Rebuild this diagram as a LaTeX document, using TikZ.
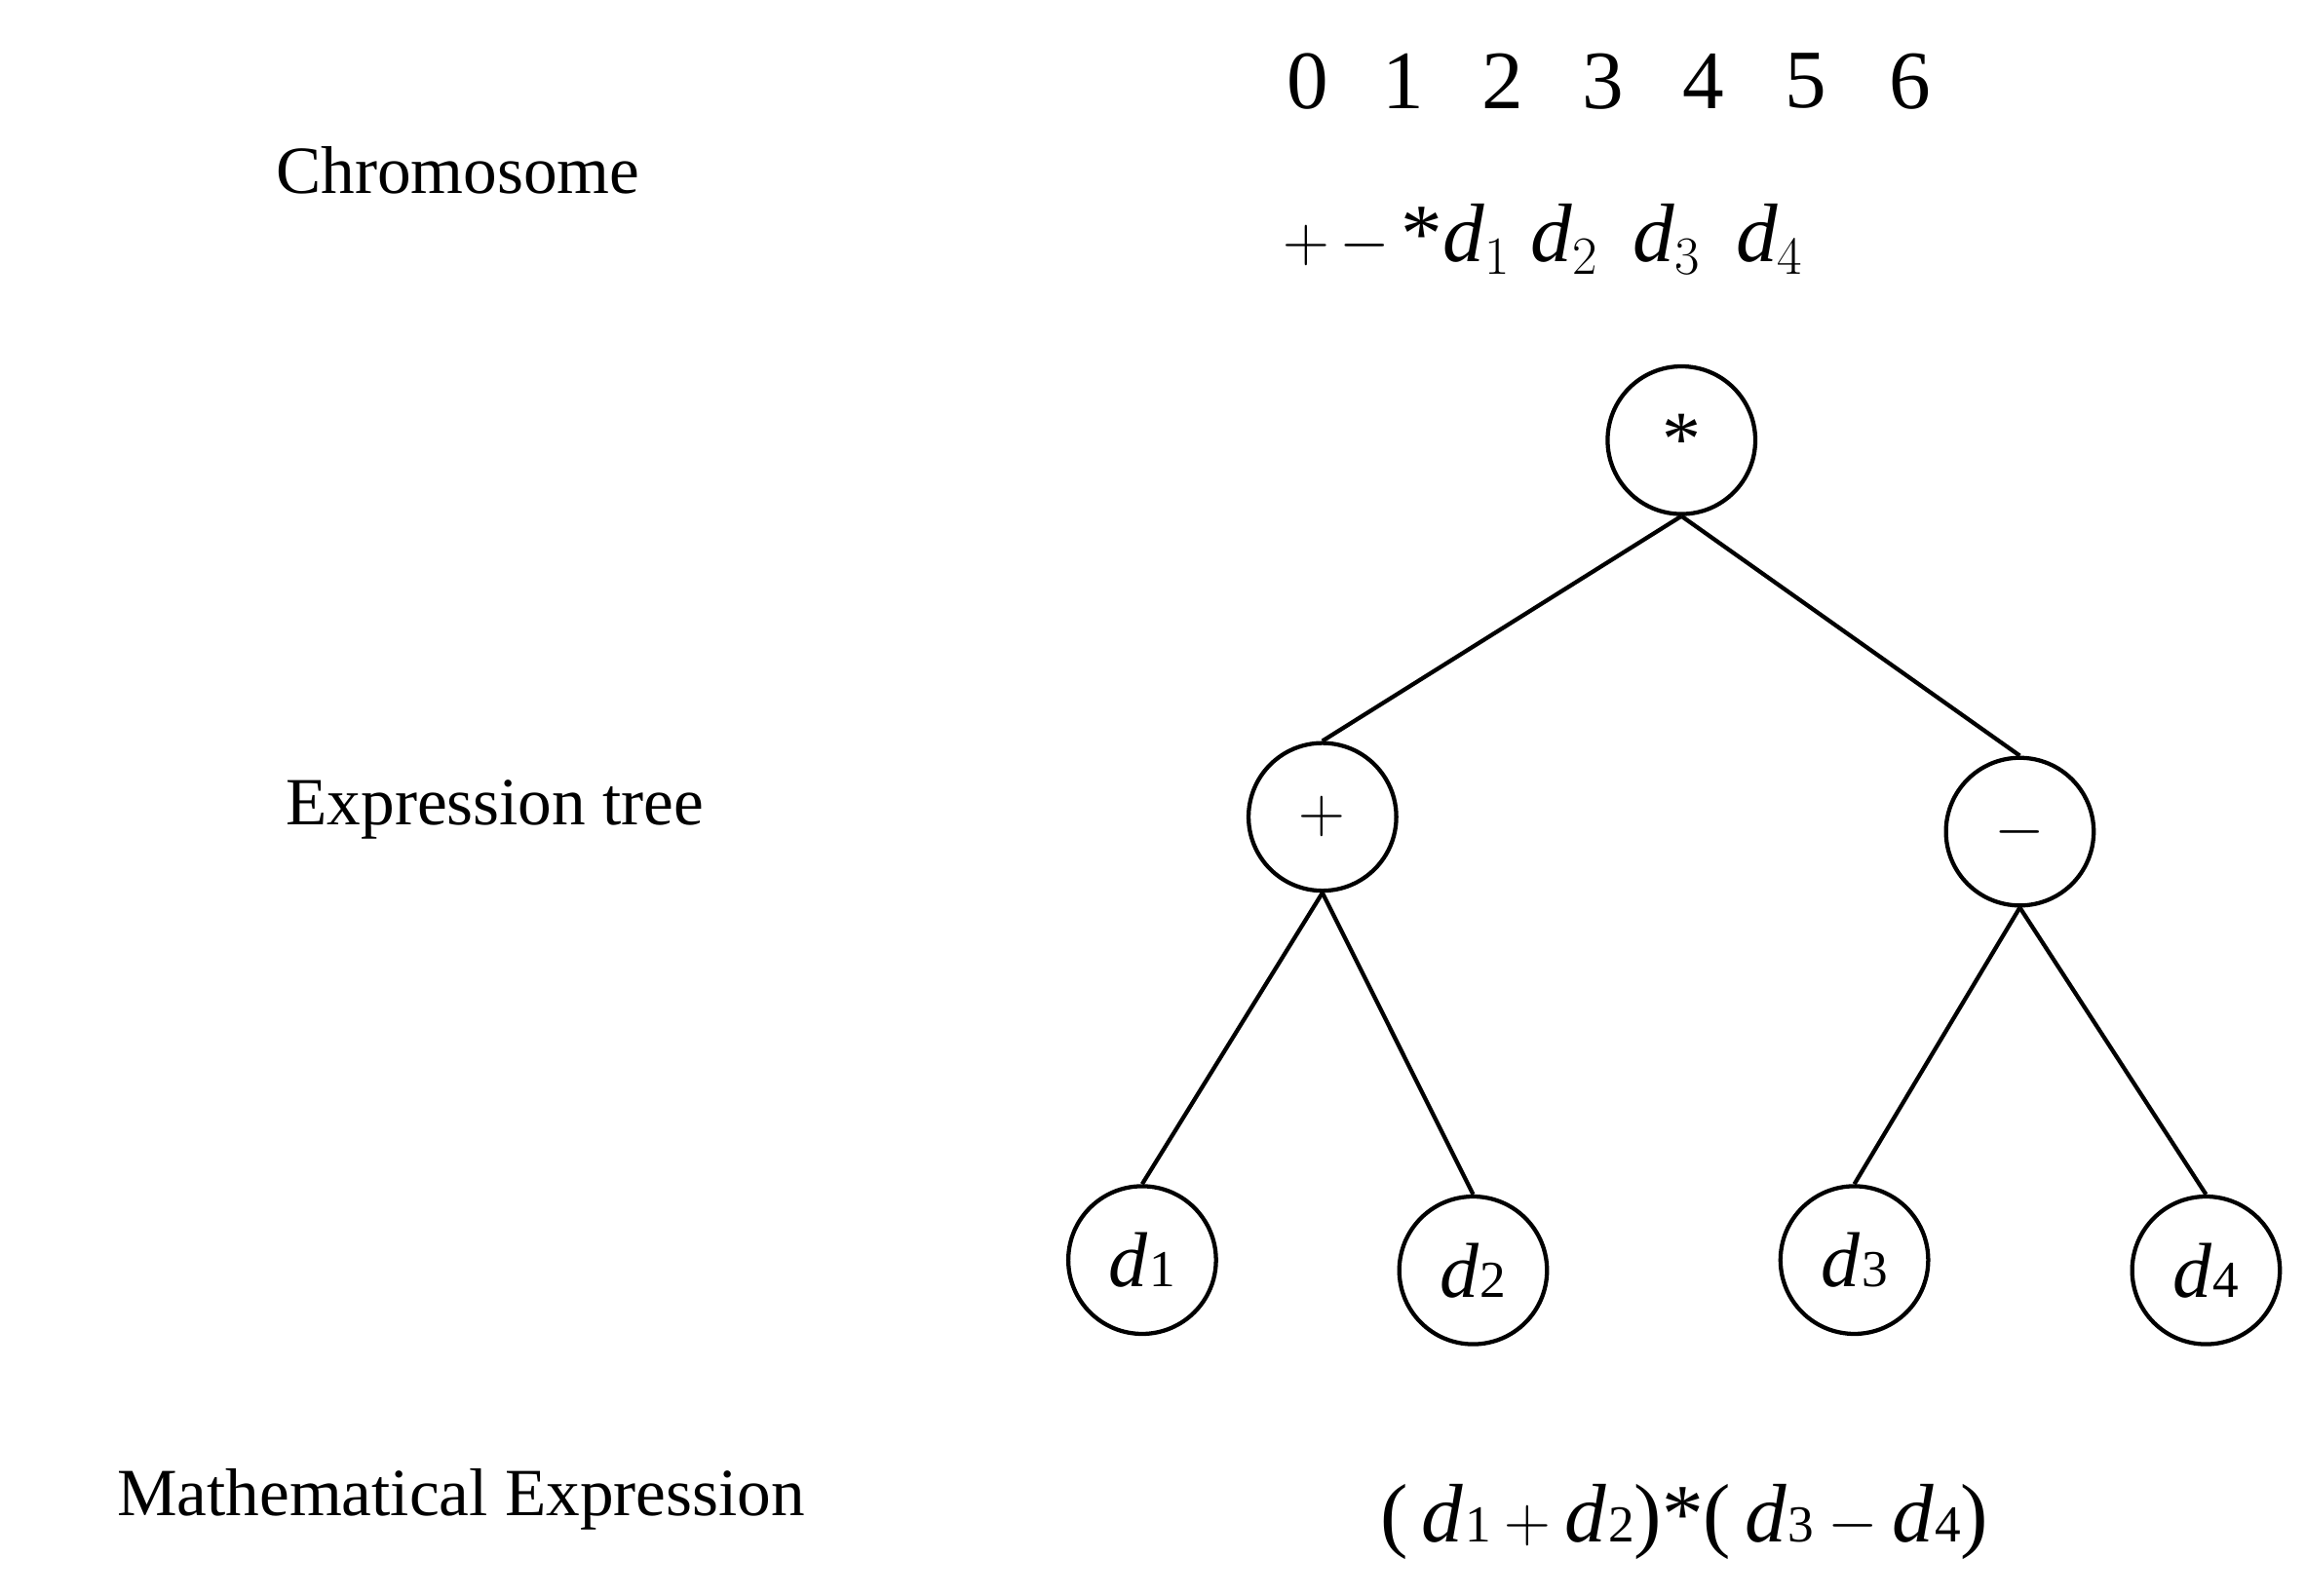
\documentclass[tikz,border=0pt]{standalone}
\usepackage{fontspec}
\setmainfont{Liberation Serif}
\newcommand{\dv}[1]{\textit{d}\kern0.5pt{\fontsize{20}{20}\selectfont #1}}
\begin{document}
\begin{tikzpicture}[x=0.02cm,y=-0.02cm,
  nd/.style={circle,draw,line width=1.6pt,minimum size=2cm,inner sep=0pt,font=\fontsize{30}{30}\selectfont},
  ed/.style={line width=1.6pt},
  lab/.style={font=\fontsize{26}{26}\selectfont},
  big/.style={font=\fontsize{32}{32}\selectfont}]
\useasboundingbox (0,0) rectangle (1560,1080);
\node[lab] (l1) at (310,115) {Chromosome};
\node[lab] (l2) at (335,548) {Expression tree};
\node[lab] (l3) at (312,1015) {Mathematical Expression};
\foreach \i/\x in {0/885,1/950,2/1017,3/1085,4/1153,5/1222,6/1293}
  \node[big] (n\i) at (\x,55) {\i};
\node[big,anchor=west] (chr) at (862,162) {$+\,-\,$*\textit{d}$_1$ \textit{d}$_2$\, \textit{d}$_3$\, \textit{d}$_4$};
\node[nd] (r) at (1138,298) {*};
\node[nd] (p) at (895,553) {$+$};
\node[nd] (m) at (1367,563) {$-$};
\node[nd] (a) at (773,853) {\dv{1}};
\node[nd] (b) at (997,860) {\dv{2}};
\node[nd] (c) at (1255,853) {\dv{3}};
\node[nd] (d) at (1493,860) {\dv{4}};
\draw[ed] (r.south) -- (p.north);
\draw[ed] (r.south) -- (m.north);
\draw[ed] (p.south) -- (a.north);
\draw[ed] (p.south) -- (b.north);
\draw[ed] (m.south) -- (c.north);
\draw[ed] (m.south) -- (d.north);
\node[big] (ex) at (1140,1030) {(\,\dv{1}\,$+$\,\dv{2})*(\,\dv{3}\,$-$\,\dv{4})};
\end{tikzpicture}
\end{document}
